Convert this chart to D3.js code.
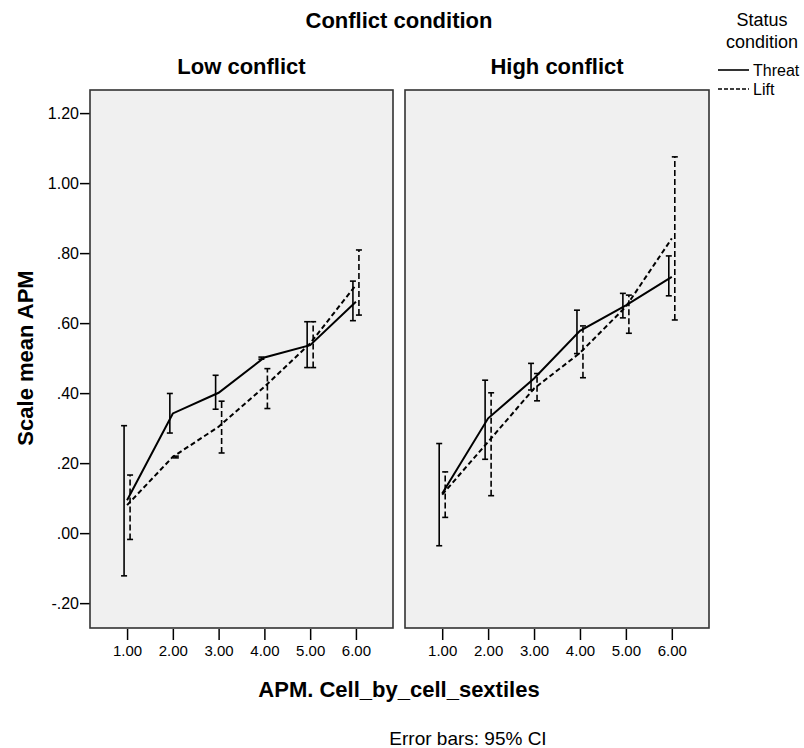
<html>
<head>
  <meta charset="UTF-8">
  <title>Scale mean APM</title>
  <script src="https://d3js.org/d3.v7.min.js"></script>
  <style>
    body { margin: 0; background: #fff; }
    text { font-family: "Liberation Sans", Arial, sans-serif; fill: #000; }
  </style>
</head>
<body>
  <svg id="svg1" width="804" height="748"></svg>

  <script>
    // ---- data ----
    const sextiles = ["1.00", "2.00", "3.00", "4.00", "5.00", "6.00"];
    const conflicts = ["Low conflict", "High conflict"];
    const statuses = ["Threat", "Lift"];
    const yTicks = [-0.2, 0, 0.2, 0.4, 0.6, 0.8, 1.0, 1.2];

    // Low conflict
    const lowThreatMean  = [0.094, 0.342, 0.401, 0.502, 0.537, 0.661];
    const lowThreatLower = [-0.122, 0.286, 0.354, 0.497, 0.473, 0.607];
    const lowThreatUpper = [0.307, 0.399, 0.451, 0.503, 0.604, 0.720];
    const lowLiftMean    = [0.080, 0.218, 0.304, 0.418, 0.542, 0.709];
    const lowLiftLower   = [-0.018, 0.215, 0.229, 0.356, 0.473, 0.623];
    const lowLiftUpper   = [0.166, 0.220, 0.377, 0.470, 0.604, 0.809];

    // High conflict
    const highThreatMean  = [0.113, 0.328, 0.442, 0.578, 0.651, 0.732];
    const highThreatLower = [-0.036, 0.211, 0.409, 0.513, 0.615, 0.678];
    const highThreatUpper = [0.256, 0.437, 0.485, 0.637, 0.685, 0.792];
    const highLiftMean    = [0.110, 0.261, 0.413, 0.515, 0.647, 0.842];
    const highLiftLower   = [0.045, 0.107, 0.378, 0.444, 0.571, 0.609];
    const highLiftUpper   = [0.175, 0.401, 0.456, 0.592, 0.680, 1.075];

    const panelData = [
      { Threat: { mean: lowThreatMean, lower: lowThreatLower, upper: lowThreatUpper },
        Lift:   { mean: lowLiftMean,   lower: lowLiftLower,   upper: lowLiftUpper } },
      { Threat: { mean: highThreatMean, lower: highThreatLower, upper: highThreatUpper },
        Lift:   { mean: highLiftMean,   lower: highLiftLower,   upper: highLiftUpper } }
    ];

    // ---- layout ----
    const svg1 = d3.select("#svg1");
    const panelTop = 90, panelBottom = 628;
    const panelX = [[90, 393], [405, 709]];
    const dashes = { Threat: null, Lift: "5,3" };
    const dodge = { Threat: -3, Lift: 3 };

    const yScale = d3.scaleLinear([-0.271, 1.266], [panelBottom, panelTop]);
    // SPSS style: ".20", "-.20", ".00"
    const fmt = v => d3.format(".2f")(v).replace("\u2212", "-").replace(/^(-?)0\./, "$1.");

    // titles
    svg1.append("text")
        .attr("x", 399).attr("y", 28)
        .attr("text-anchor", "middle")
        .style("font-size", "22px").style("font-weight", "bold")
        .text("Conflict condition");

    // y axis
    const leftAxis = d3.axisLeft(yScale).tickValues(yTicks).tickFormat(fmt).tickSize(10).tickPadding(1);
    const yAxisG = svg1.append("g")
        .attr("transform", `translate(${panelX[0][0]}, 0)`)
        .call(leftAxis);
    yAxisG.select(".domain").remove();
    yAxisG.selectAll(".tick line").attr("stroke", "#000").attr("stroke-width", 1.5);
    yAxisG.selectAll(".tick text").style("font-size", "16px").style("font-family", "Liberation Sans, Arial, sans-serif");

    svg1.append("text")
        .attr("transform", "translate(33, 358) rotate(-90)")
        .attr("text-anchor", "middle")
        .style("font-size", "22px").style("font-weight", "bold")
        .text("Scale mean APM");

    conflicts.forEach((cond, i) => {
      const [x0, x1] = panelX[i];
      const xScale = d3.scalePoint(sextiles, [x0, x1]).padding(0.81);
      const g = svg1.append("g").attr("class", "panel");

      g.append("rect")
        .attr("x", x0).attr("y", panelTop)
        .attr("width", x1 - x0).attr("height", panelBottom - panelTop)
        .attr("fill", "#f0f0f0")
        .attr("stroke", "#333").attr("stroke-width", 1.6);

      svg1.append("text")
        .attr("x", (x0 + x1) / 2).attr("y", 74)
        .attr("text-anchor", "middle")
        .style("font-size", "22px").style("font-weight", "bold")
        .text(cond);

      const bottomAxis = d3.axisBottom(xScale).tickSize(11).tickPadding(5);
      const xAxisG = svg1.append("g")
          .attr("transform", `translate(0, ${panelBottom + 1})`)
          .call(bottomAxis);
      xAxisG.select(".domain").remove();
      xAxisG.selectAll(".tick line").attr("stroke", "#000").attr("stroke-width", 1.5);
      xAxisG.selectAll(".tick text").style("font-size", "15px").style("font-family", "Liberation Sans, Arial, sans-serif");

      statuses.forEach(s => {
        const d = panelData[i][s];
        const pts = sextiles.map((c, k) => ({ c, mean: d.mean[k], lo: d.lower[k], hi: d.upper[k] }));

        const line = d3.line()
            .x(p => xScale(p.c))
            .y(p => yScale(p.mean));

        g.append("path")
          .attr("d", line(pts))
          .attr("fill", "none")
          .attr("stroke", "#000")
          .attr("stroke-width", 2)
          .attr("stroke-dasharray", dashes[s]);

        const bars = g.selectAll(null).data(pts).join("g")
            .attr("transform", p => `translate(${xScale(p.c) + dodge[s]}, 0)`);
        bars.append("line")
          .attr("y1", p => yScale(p.lo)).attr("y2", p => yScale(p.hi))
          .attr("stroke", "#000").attr("stroke-width", 1.6)
          .attr("stroke-dasharray", dashes[s] ? "6,3" : null);
        bars.selectAll("line.cap").data(p => [p.lo, p.hi]).join("line")
          .attr("class", "cap")
          .attr("x1", -3).attr("x2", 3)
          .attr("y1", v => yScale(v)).attr("y2", v => yScale(v))
          .attr("stroke", "#000").attr("stroke-width", 1.6);
      });
    });

    svg1.append("text")
        .attr("x", 399).attr("y", 697)
        .attr("text-anchor", "middle")
        .style("font-size", "22px").style("font-weight", "bold")
        .text("APM. Cell_by_cell_sextiles");

    svg1.append("text")
        .attr("x", 468).attr("y", 745)
        .attr("text-anchor", "middle")
        .style("font-size", "19px")
        .text("Error bars: 95% CI");

    // legend
    const legend = svg1.append("g");
    legend.append("text").attr("x", 762).attr("y", 26).attr("text-anchor", "middle")
        .style("font-size", "18px").text("Status");
    legend.append("text").attr("x", 762).attr("y", 48).attr("text-anchor", "middle")
        .style("font-size", "18px").text("condition");
    statuses.forEach((s, k) => {
      const y = 70 + k * 19;
      legend.append("line")
        .attr("x1", 718).attr("x2", 749).attr("y1", y).attr("y2", y)
        .attr("stroke", "#000").attr("stroke-width", 1.6)
        .attr("stroke-dasharray", dashes[s] ? "4,2" : null);
      legend.append("text").attr("x", 753).attr("y", y + 6)
        .style("font-size", "16px").text(s);
    });
  </script>
</body>
</html>
